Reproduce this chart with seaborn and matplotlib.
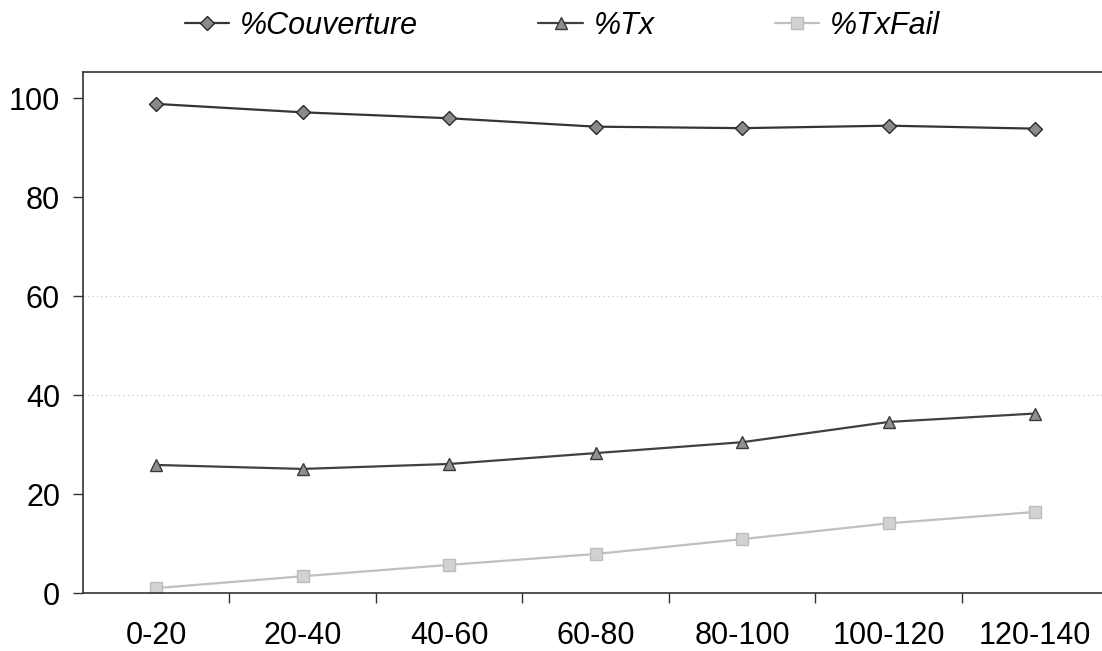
import matplotlib
matplotlib.use("Agg")
import matplotlib.pyplot as plt
import seaborn as sns
import pandas as pd
import numpy as np

categories = ["0-20", "20-40", "40-60", "60-80", "80-100", "100-120", "120-140"]
couverture = [98.9, 97.2, 96.0, 94.3, 94.0, 94.5, 93.9]
tx = [25.9, 25.1, 26.1, 28.3, 30.5, 34.6, 36.3]
txfail = [1.0, 3.4, 5.7, 7.9, 10.9, 14.1, 16.4]
series_names = ["%Couverture", "%Tx", "%TxFail"]
yticks = [0, 20, 40, 60, 80, 100]

sns.set_style("white")
plt.rcParams['font.family'] = ['Liberation Sans', 'DejaVu Sans']

rows = []
for name, vals in zip(series_names, [couverture, tx, txfail]):
    for i, v in enumerate(vals):
        rows.append({"x": i, "value": v, "series": name})
df = pd.DataFrame(rows)

fig = plt.figure(figsize=(11.02, 6.51), dpi=100)
ax = fig.add_axes([0.0753, 0.089, 0.9247, 0.80])

palette = {"%Couverture": "#353535", "%Tx": "#404040", "%TxFail": "#c0c0c0"}
markers = {"%Couverture": "D", "%Tx": "^", "%TxFail": "s"}
mfc = {"%Couverture": "#8a8a8a", "%Tx": "#909090", "%TxFail": "#d2d2d2"}
mec = {"%Couverture": "#2a2a2a", "%Tx": "#3a3a3a", "%TxFail": "#bdbdbd"}
msize = {"%Couverture": 7, "%Tx": 8, "%TxFail": 8}

handles = []
for name in series_names:
    sub = df[df["series"] == name]
    sns.lineplot(data=sub, x="x", y="value", ax=ax, color=palette[name],
                 lw=1.6, marker=markers[name], markersize=msize[name],
                 markerfacecolor=mfc[name], markeredgecolor=mec[name],
                 markeredgewidth=1.0, legend=False)
    h, = ax.plot([], [], color=palette[name], lw=1.6, marker=markers[name],
                 markersize=msize[name], markerfacecolor=mfc[name],
                 markeredgecolor=mec[name], markeredgewidth=1.0)
    handles.append(h)

ax.set_xlim(-0.5, 6.456)
ax.set_ylim(0, 105.3)
ax.set_yticks(yticks)
ax.set_yticklabels([str(t) for t in yticks], fontsize=22, color="black")
ax.set_xticks(range(len(categories)))
ax.set_xticklabels(categories, fontsize=22, color="black")
ax.set_xticks(np.arange(0.5, len(categories) - 0.5, 1.0), minor=True)
ax.tick_params(axis="x", which="major", bottom=True, length=0, pad=20)
ax.tick_params(axis="x", which="minor", bottom=True, length=7.5, width=1.0, color="#333333", direction="out")
ax.tick_params(axis="y", which="major", left=True, length=7.5, width=1.0, color="#333333", direction="out", pad=9)
ax.set_xlabel("")
ax.set_ylabel("")

for t in [40, 60]:
    ax.axhline(t, color="#bdbdbd", lw=0.8, ls=(0, (1, 3)), zorder=0)

for s in ["left", "bottom", "top"]:
    ax.spines[s].set_visible(True)
    ax.spines[s].set_color("#333333")
    ax.spines[s].set_linewidth(1.2)
ax.spines["right"].set_visible(False)

leg = fig.legend(handles, series_names, loc="center", bbox_to_anchor=(0.5104, 1 - 26 / 651),
                 ncol=3, frameon=False, handlelength=1.45, columnspacing=3.95,
                 handletextpad=0.35, borderpad=0, borderaxespad=0,
                 prop={"family": "Liberation Sans", "style": "italic", "size": 22})
for t in leg.get_texts():
    t.set_color("black")

fig.savefig("out.png", dpi=100, facecolor="white")
